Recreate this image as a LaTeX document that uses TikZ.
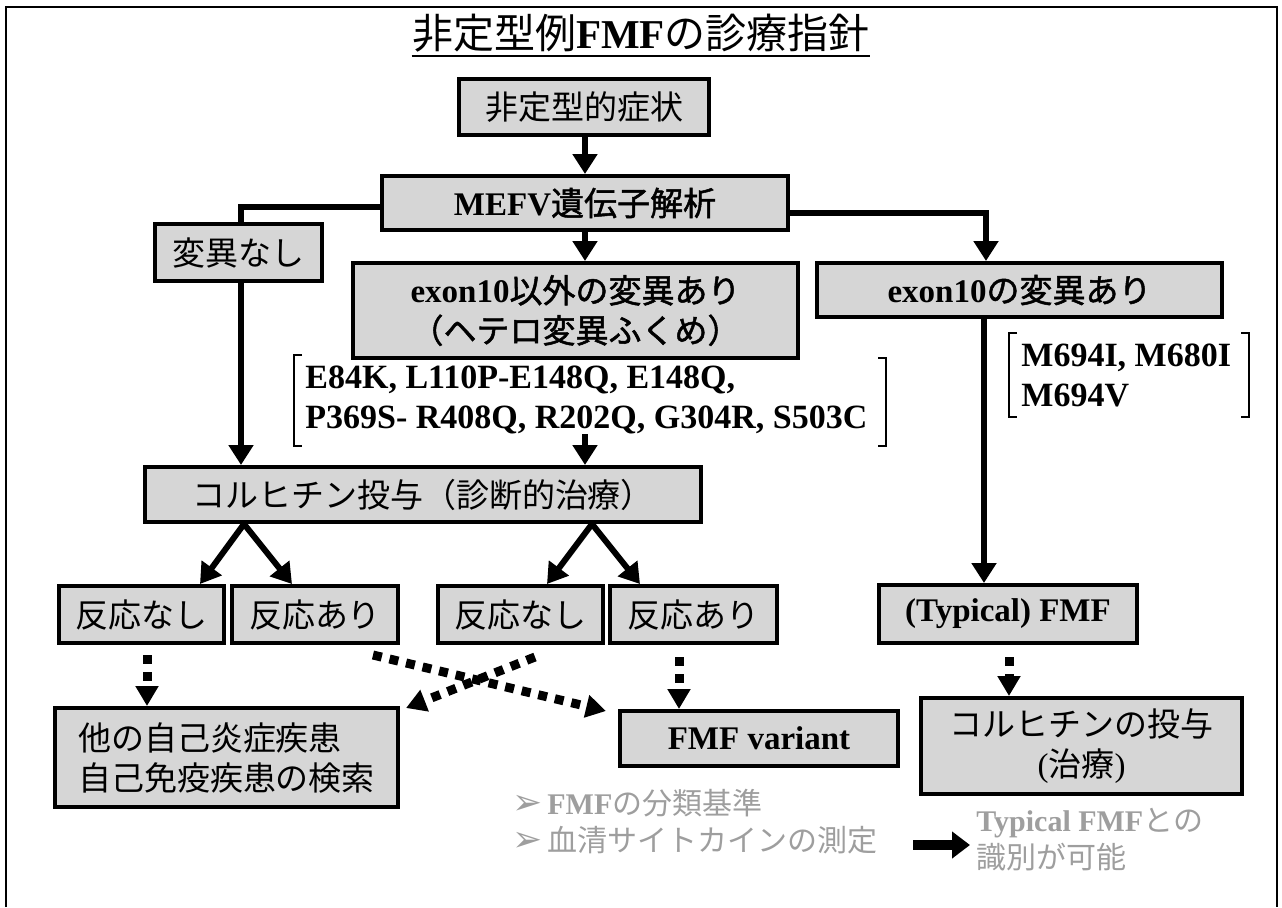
\documentclass[tikz,border=0pt]{standalone}
\usepackage{fontspec}
\setmainfont{Liberation Serif}
\newfontfamily\jp{Noto Sans CJK JP}[AutoFakeBold=1.5]
\newfontfamily\dvsans{DejaVu Sans}
\usetikzlibrary{arrows.meta,calc}
\begin{document}
\begin{tikzpicture}[x=0.5pt,y=-0.5pt,
  box/.style={draw, line width=2pt, fill=black!16, inner sep=0pt, align=center,
    font=\fontsize{16.5}{20}\selectfont},
  arr/.style={line width=3pt, -{Triangle[length=10pt,width=12pt]}},
  con/.style={line width=3pt},
  dotarr/.style={line width=4.5pt, dash pattern=on 4.5pt off 4pt, -{Triangle[length=10pt,width=11pt]}},
  brk/.style={line width=0.6pt},
  mutxt/.style={anchor=west, align=left, inner sep=0pt, font=\bfseries\fontsize{17}{20}\selectfont},
  graytxt/.style={anchor=west, align=left, inner sep=0pt, text=black!38, font=\fontsize{15}{18.5}\selectfont}
]
\useasboundingbox (0,0) rectangle (1282,907);
% frame
\draw[line width=1pt] (6,907) -- (6,7) -- (1277,7) -- (1277,907);
% title
\node[inner sep=0pt, font=\fontsize{20.5}{24}\selectfont] (title) at (641,33)
  {{\jp 非定型例}\textbf{FMF}{\jp の診療指針}};
\draw[line width=1pt] ([yshift=-2pt]title.south west) -- ([yshift=-2pt]title.south east);

% boxes
\node[box, minimum width=125pt, minimum height=28pt] (sym) at (584,107) {\jp 非定型的症状};
\node[box, minimum width=203pt, minimum height=27pt] (mefv) at (585,203) {\textbf{MEFV}{\jp\bfseries 遺伝子解析}};
\node[box, minimum width=83.5pt, minimum height=28.5pt] (nomut) at (238.5,252.5) {\jp 変異なし};
\node[box, minimum width=222.5pt, minimum height=47.5pt] (ex10o) at (575.5,310.5)
  {\textbf{exon10}{\jp\bfseries 以外の変異あり}\\{\jp\bfseries （ヘテロ変異ふくめ）}};
\node[box, minimum width=202.5pt, minimum height=27pt] (ex10) at (1019.5,290) {\textbf{exon10}{\jp\bfseries の変異あり}};
\node[box, minimum width=278pt, minimum height=27.5pt] (colch) at (423,494.5) {\jp コルヒチン投与（診断的治療）};
\node[box, minimum width=82.5pt, minimum height=28.5pt] (r1n) at (141.5,614.5) {\jp 反応なし};
\node[box, minimum width=83pt, minimum height=28.5pt] (r1a) at (315,614.5) {\jp 反応あり};
\node[box, minimum width=82.5pt, minimum height=28.5pt] (r2n) at (520.5,614.5) {\jp 反応なし};
\node[box, minimum width=83.5pt, minimum height=28.5pt] (r2a) at (693.5,614.5) {\jp 反応あり};
\node[box, minimum width=129pt, minimum height=29pt] (typ) at (1008,614) {\textbf{(Typical) FMF}};
\node[box, minimum width=171.5pt, minimum height=49.5pt, align=left] (other) at (226.5,757.5)
  {\jp 他の自己炎症疾患\\\jp 自己免疫疾患の検索};
\node[box, minimum width=139pt, minimum height=27.5pt] (variant) at (759,738.5) {\textbf{FMF variant}};
\node[box, minimum width=160.5pt, minimum height=48pt] (colch2) at (1081.5,746)
  {{\jp コルヒチンの投与}\\({\jp 治療})};

% mutation lists
\node[mutxt] (mut) at (305,400) {E84K, L110P-E148Q, E148Q,\\P369S- R408Q, R202Q, G304R, S503C};
\node[mutxt] (m694) at (1021,375) {M694I, M680I\\M694V};
\draw[brk] (302,355) -- (294,355) -- (294,446) -- (302,446);
\draw[brk] (878,358) -- (886,358) -- (886,446) -- (878,446);
\draw[brk] (1017,333) -- (1009,333) -- (1009,417) -- (1017,417);
\draw[brk] (1241,333) -- (1249,333) -- (1249,417) -- (1241,417);

% connectors
\coordinate (e1) at ($(ex10.south)+(-35.5,0)$);
\coordinate (nx) at ($(nomut.north)+(2.5,0)$);
\draw[arr] (sym.south -| mefv.south) -- (mefv.north);
\draw[con] ([yshift=-2pt]mefv.west) -| (nx);
\draw[arr] (mefv.south) -- (mefv.south |- ex10o.north);
\draw[arr] ([yshift=-5pt]mefv.east) -| ([xshift=-16.75pt]ex10.north);
\draw[arr] (nx |- nomut.south) -- (nx |- colch.north);
\draw[arr] (mut.south -| mefv.south) -- (mefv.south |- colch.north);
\draw[arr] (e1) -- (e1 |- typ.north);

% forks
\coordinate (f1) at (244,524);
\coordinate (f2) at (592,524);
\coordinate (t1) at (200,584);
\coordinate (t2) at (292,584);
\coordinate (t3) at (547,584);
\coordinate (t4) at (640,584);
\draw[arr] (f1) -- (t1);
\draw[arr] (f1) -- (t2);
\draw[arr] (f2) -- (t3);
\draw[arr] (f2) -- (t4);

% dotted arrows
\draw[dotarr] ([xshift=2.75pt,yshift=-5pt]r1n.south) -- ([xshift=2.75pt]r1n.south |- other.north);
\draw[dotarr] ([xshift=-13.5pt,yshift=-5pt]r1a.south east) -- ([xshift=-6pt,yshift=-1pt]variant.north west);
\draw[dotarr] ([xshift=-35pt,yshift=-6pt]r2n.south east) -- ([xshift=3pt,yshift=-1pt]other.north east);
\draw[dotarr] ([xshift=-7.25pt,yshift=-6pt]r2a.south) -- ([xshift=-7.25pt]r2a.south |- variant.north);
\draw[dotarr] ([xshift=0.5pt,yshift=-6pt]typ.south) -- ([xshift=0.5pt]typ.south |- colch2.north);

% gray notes
\node[graytxt] (gl) at (512,821.5)
  {\makebox[17.5pt][l]{\dvsans\fontsize{18}{18}\selectfont ➢}\textbf{FMF}{\jp の分類基準}\\
   \makebox[17.5pt][l]{\dvsans\fontsize{18}{18}\selectfont ➢}{\jp 血清サイトカインの測定}};
\node[graytxt] (gr) at (976,840) {\textbf{Typical FMF}{\jp との}\\{\jp 識別が可能}};
\coordinate (ar1) at (913,845);
\coordinate (ar2) at (970,845);
\draw[line width=5pt, -{Triangle[length=9pt,width=13pt]}] (ar1) -- (ar2);
\end{tikzpicture}
\end{document}
